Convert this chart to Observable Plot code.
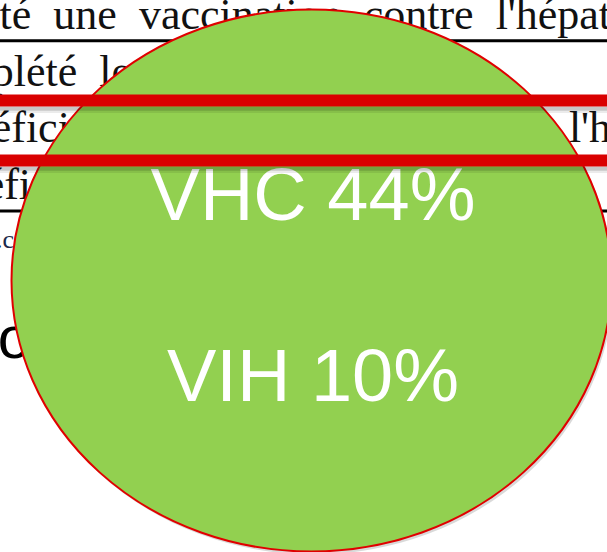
<!DOCTYPE html>
<html>
<head>
<meta charset="utf-8">
<script src="https://cdn.jsdelivr.net/npm/d3@7"></script>
<script src="https://cdn.jsdelivr.net/npm/@observablehq/plot@0.6"></script>
<style>
  html, body { margin: 0; padding: 0; background: #fff; overflow: hidden; }
  #chart svg { display: block; }
</style>
</head>
<body>
<div id="chart"></div>
<script>
// ---- chart data ----
const infections = ["VHC", "VIH"];
const prevalence = [44, 10];

// ---- cropped document page behind the bubble (justified lines) ----
const docLines = [
  "uté une vaccination contre l'hépatite B",
  "plété les trois doses",
  "éficié d'une vaccination contre l'hépatite B",
  "éficié d'un dépistage"
];
const docRuleRows = [0, 3];     // rows followed by a table border
const highlightRow = [2];       // row framed by the red highlight
const noteText = [".c"];
const slideText = ["o"];

// ---- layout ----
const W = 607, H = 552;
const rowH = 56.7;                 // px per document row
const docFont = 44;
const docIndent = [-0.52, -0.2, -0.2, -0.36];   // in em (cropped justified lines)
const gaps = ["\u2002", "\u2002", " \u2006", "\u2002"]; // justified word gaps per line

const doc = docLines.map((text, i) => ({text: text.replace(/ /g, gaps[i]), row: i, indent: docIndent[i]}));
const table = infections.map((name, i) => ({name, value: prevalence[i]}));

const ell = {insetLeft: 11, insetRight: -4, insetTop: 9, insetBottom: 1, rx: 300, ry: 271};
const serif = "'Liberation Serif', 'Times New Roman', serif";
const sans = "'Liberation Sans', Arial, sans-serif";

const chart = Plot.plot({
  width: W,
  height: H,
  margin: 0,
  x: {domain: [0, W / docFont], range: [0, W], axis: null},
  y: {domain: [0, H / rowH], range: [0, H], axis: null},
  style: {background: "#fff"},
  marks: [
    // document background
    Plot.text(doc, {
      x: "indent", y: d => d.row + 0.5, text: "text",
      textAnchor: "start", lineAnchor: "bottom",
      fontSize: docFont, fontFamily: serif, fill: "#111"
    }),
    Plot.ruleY(docRuleRows, {y: d => d + 0.5, dy: 12, stroke: "#000", strokeWidth: 3}),
    Plot.text(noteText, {
      x: -0.1, y: 4.36, text: d => d, textAnchor: "start", lineAnchor: "bottom",
      fontSize: 26, fontFamily: serif, fill: "#1c2a4a"
    }),
    Plot.text(slideText, {
      x: -0.06, y: 6.31, text: d => d, textAnchor: "start", lineAnchor: "bottom",
      fontSize: 60, fontFamily: sans, fill: "#000"
    }),
    // bubble shadow
    Plot.frame({...ell, insetLeft: ell.insetLeft + 2, insetRight: ell.insetRight - 2,
      insetTop: ell.insetTop + 3, insetBottom: ell.insetBottom - 3,
      fill: "#000", fillOpacity: 0.15, stroke: null}),
    // bubble
    Plot.frame({...ell, fill: "#92D050", stroke: "#E00000", strokeWidth: 2}),
    // labels
    Plot.text(table, {
      y: (d, i) => 3.88 + 3.175 * i,
      text: d => `${d.name} ${d.value}%`,
      frameAnchor: "middle", dx: 9,
      textAnchor: "middle", lineAnchor: "bottom",
      fontSize: 74, fontFamily: sans, fill: "#fff"
    }),
    // red highlight band shadows
    Plot.ruleY(highlightRow, {y: d => d - 0.236, dy: 8, stroke: "#000", strokeOpacity: 0.22, strokeWidth: 4}),
    Plot.ruleY(highlightRow, {y: d => d - 0.236, dy: 11, stroke: "#000", strokeOpacity: 0.08, strokeWidth: 3}),
    Plot.ruleY(highlightRow, {y: d => d + 0.822, dy: 8, stroke: "#000", strokeOpacity: 0.22, strokeWidth: 4}),
    Plot.ruleY(highlightRow, {y: d => d + 0.822, dy: 11, stroke: "#000", strokeOpacity: 0.08, strokeWidth: 3}),
    // red highlight bands
    Plot.ruleY(highlightRow, {y: d => d - 0.236, stroke: "#D90000", strokeWidth: 12}),
    Plot.ruleY(highlightRow, {y: d => d + 0.822, stroke: "#D90000", strokeWidth: 12})
  ]
});

document.getElementById("chart").appendChild(chart);
</script>
</body>
</html>
